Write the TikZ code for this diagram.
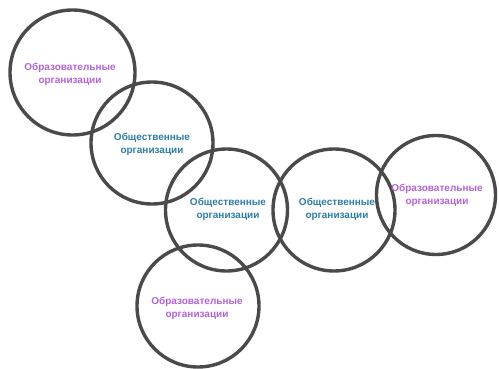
\documentclass[tikz,border=0pt]{standalone}
\usepackage{fontspec}
\setmainfont{Liberation Sans}
\definecolor{ringgray}{HTML}{4A4A4A}
\definecolor{edupurple}{HTML}{B462D6}
\definecolor{pubblue}{HTML}{2E7DA6}
\tikzset{
  ring/.style={circle, draw=ringgray, line width=3.4pt, minimum size=122pt, inner sep=0pt},
  edulabel/.style={text=edupurple, font=\bfseries\fontsize{10}{13}\selectfont, align=center, inner sep=0pt},
  publabel/.style={text=pubblue, font=\bfseries\fontsize{10}{13}\selectfont, align=center, inner sep=0pt}
}
\begin{document}
\begin{tikzpicture}[x=1pt,y=-1pt]
\useasboundingbox (0,0) rectangle (499,369);
\node[ring, minimum size=125pt] (c1) at (72.5,72.5) {};
\node[ring] (c2) at (152,143) {};
\node[ring] (c3) at (226.5,210) {};
\node[ring] (c4) at (334,210) {};
\node[ring, minimum size=119pt] (c5) at (436,195) {};
\node[ring] (c6) at (198,306) {};
\node[edulabel] (t1) at (70,74) {Образовательные\\организации};
\node[publabel] (t2) at (152,144) {Общественные\\организации};
\node[publabel] (t3) at (228,209) {Общественные\\организации};
\node[publabel] (t4) at (337,209) {Общественные\\организации};
\node[edulabel] (t5) at (437,195) {Образовательные\\организации};
\node[edulabel] (t6) at (197,308) {Образовательные\\организации};
\end{tikzpicture}
\end{document}
